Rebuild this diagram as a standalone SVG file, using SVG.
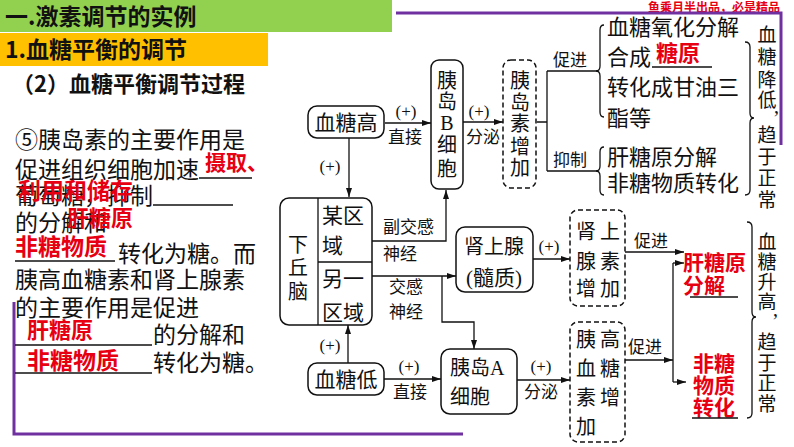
<svg xmlns="http://www.w3.org/2000/svg" width="794" height="447" viewBox="0 0 794 447">
<defs>
<style>
.t{font-family:'Liberation Serif','Noto Sans CJK SC',serif;fill:#111}
.n19{font-size:19px}
.n20{font-size:20px}
.n21{font-size:21px}
.n22{font-size:22px}
.lab{font-size:17px}
.lt{font-family:'Noto Sans CJK SC',sans-serif;font-size:23px;fill:#111}
.red{font-family:'Noto Sans CJK SC',sans-serif;font-weight:700;fill:#E60012}
.hd{font-family:'Noto Sans CJK SC',sans-serif;font-weight:700;fill:#111}
.box{fill:#fff;stroke:#111;stroke-width:1.5}
.dbox{fill:#fff;stroke:#111;stroke-width:1.5;stroke-dasharray:5 3}
.ln{fill:none;stroke:#111;stroke-width:1.3}
.ul{stroke:#111;stroke-width:1.5}
.pur{fill:none;stroke:#7030A0;stroke-width:3}
.mid{text-anchor:middle}
</style>
<marker id="ah" markerWidth="10" markerHeight="8" refX="9" refY="4" orient="auto" markerUnits="userSpaceOnUse"><path d="M0,1 L9,4 L0,7 Z" fill="#111"/></marker>
</defs>
<rect width="794" height="447" fill="#fff"/>

<g id="header">
<rect x="0" y="0" width="392" height="32" fill="#92D050"/>
<text class="hd" x="5" y="25" font-size="23">一.激素调节的实例</text>
<rect x="0" y="33" width="268" height="33" fill="#FFC000"/>
<text class="hd" x="5" y="58" font-size="23">1.血糖平衡的调节</text>
<text class="hd" x="12" y="92" font-size="22">（2）血糖平衡调节过程</text>
<text class="red" x="780" y="12" font-size="12" text-anchor="end">鱼乘月半出品，必是精品</text>
</g>

<g id="frame">
<path class="pur" d="M396,13 H781 V145"/>
<path class="pur" d="M14,302 V434 H463"/>
</g>

<g id="lefttext">
<text class="lt" x="15" y="148">⑤胰岛素的主要作用是</text>
<text class="lt" x="15" y="178">促进组织细胞加速</text>
<line class="ul" x1="199" y1="178" x2="252" y2="178"/>
<text class="red" x="205" y="170" font-size="21">摄取、</text>
<text class="lt" x="15" y="204">葡萄糖，抑制</text>
<line class="ul" x1="153" y1="205" x2="233" y2="205"/>
<text class="red" x="18" y="199" font-size="23">利用和储存</text>
<text class="lt" x="15" y="231">的分解和</text>
<text class="red" x="67" y="226" font-size="22">肝糖原</text>
<text class="red" x="15" y="255" font-size="23">非糖物质</text>
<line class="ul" x1="15" y1="261" x2="115" y2="261"/>
<text class="lt" x="118" y="262">转化为糖。而</text>
<text class="lt" x="15" y="288">胰高血糖素和肾上腺素</text>
<text class="lt" x="15" y="316">的主要作用是促进</text>
<text class="red" x="27" y="338" font-size="22">肝糖原</text>
<line class="ul" x1="15" y1="345" x2="152" y2="345"/>
<text class="lt" x="153" y="343">的分解和</text>
<text class="red" x="27" y="369" font-size="23">非糖物质</text>
<line class="ul" x1="15" y1="373" x2="152" y2="373"/>
<text class="lt" x="153" y="371">转化为糖。</text>
</g>

<g id="connectors">
<path class="ln" d="M385,123 H431" marker-end="url(#ah)"/>
<path class="ln" d="M463,122 H503" marker-end="url(#ah)"/>
<path class="ln" d="M537,122 H547 M547,71 V171 M547,71 H598 M547,171 H598"/>
<path class="ln" d="M349,138 V197" marker-end="url(#ah)"/>
<path class="ln" d="M372,241 H446 V190" marker-end="url(#ah)"/>
<path class="ln" d="M372,276 H456" marker-end="url(#ah)"/>
<path class="ln" d="M442,276 V322 H474 V349" marker-end="url(#ah)"/>
<path class="ln" d="M348,363 V325" marker-end="url(#ah)"/>
<path class="ln" d="M384,379 H441" marker-end="url(#ah)"/>
<path class="ln" d="M517,380 H570" marker-end="url(#ah)"/>
<path class="ln" d="M533,259 H570" marker-end="url(#ah)"/>
<path class="ln" d="M625,252 H684" marker-end="url(#ah)"/>
<path class="ln" d="M625,360 H673" marker-end="url(#ah)"/>
<path class="ln" d="M673,263 V382"/>
<path class="ln" d="M673,263 H684" marker-end="url(#ah)"/>
<path class="ln" d="M673,382 H686" marker-end="url(#ah)"/>
<g class="t lab">
<text class="mid" x="406" y="117">(+)</text>
<text class="mid" x="405" y="143">直接</text>
<text class="mid" x="479" y="117">(+)</text>
<text class="mid" x="483" y="143">分泌</text>
<text class="mid" x="570" y="66">促进</text>
<text class="mid" x="570" y="166">抑制</text>
<text class="mid" x="330" y="172">(+)</text>
<text x="383" y="233">副交感</text>
<text x="383" y="260">神经</text>
<text x="389" y="293">交感</text>
<text x="389" y="318">神经</text>
<text class="mid" x="549" y="252">(+)</text>
<text class="mid" x="651" y="247">促进</text>
<text class="mid" x="645" y="353">促进</text>
<text class="mid" x="330" y="351">(+)</text>
<text class="mid" x="409" y="372">(+)</text>
<text class="mid" x="410" y="398">直接</text>
<text class="mid" x="541" y="372">(+)</text>
<text class="mid" x="541" y="398">分泌</text>
</g>
</g>

<g id="n_xuetanggao">
<rect class="box" x="308" y="106" width="76" height="32" rx="9"/>
<text class="t n21 mid" x="346" y="130">血糖高</text>
</g>

<g id="n_yidaoB">
<rect class="box" x="431" y="60" width="32" height="129" rx="8"/>
<text class="t n20 mid"><tspan x="447" y="88">胰</tspan><tspan x="447" y="109">岛</tspan><tspan x="447" y="130">B</tspan><tspan x="447" y="152">细</tspan><tspan x="447" y="176">胞</tspan></text>
</g>

<g id="n_yidaosu">
<rect class="dbox" x="503" y="60" width="33" height="128" rx="8"/>
<text class="t n20 mid"><tspan x="520" y="88">胰</tspan><tspan x="520" y="110">岛</tspan><tspan x="520" y="131">素</tspan><tspan x="520" y="154">增</tspan><tspan x="520" y="175">加</tspan></text>
</g>

<g id="n_effects_down">
<path class="ln" d="M604,25 Q600,25 600,30 L600,66 Q600,71 596,71 Q600,71 600,76 L600,112 Q600,117 604,117"/>
<path class="ln" d="M604,147 Q600,147 600,152 L600,166 Q600,171 596,171 Q600,171 600,176 L600,190 Q600,195 604,195"/>
<g class="t n22">
<text x="607" y="35">血糖氧化分解</text>
<text x="607" y="65">合成</text>
<text x="607" y="95">转化成甘油三</text>
<text x="607" y="126">酯等</text>
<text x="607" y="165">肝糖原分解</text>
<text x="607" y="191">非糖物质转化</text>
</g>
<text class="red" x="656" y="61" font-size="22">糖原</text>
<line class="ul" x1="652" y1="67" x2="712" y2="67"/>
<path class="ln" d="M745,42 Q750,42 750,47 L750,113 Q750,118 754,118 Q750,118 750,123 L750,190 Q750,195 745,195"/>
<text class="t n19 mid"><tspan x="767" y="42">血</tspan><tspan x="767" y="64">糖</tspan><tspan x="767" y="87">降</tspan><tspan x="767" y="107">低</tspan><tspan x="767" y="142">趋</tspan><tspan x="767" y="164">于</tspan><tspan x="767" y="185">正</tspan><tspan x="767" y="207">常</tspan></text>
<text class="t" x="774" y="113" font-size="20">,</text>
</g>

<g id="n_xiaqiunao">
<rect class="box" x="280" y="198" width="92" height="127" rx="9"/>
<path class="ln" d="M318,198 V325 M318,262 H372"/>
<text class="t n20 mid"><tspan x="298" y="252">下</tspan><tspan x="298" y="275">丘</tspan><tspan x="298" y="299">脑</tspan></text>
<g class="t n21">
<text x="322" y="223">某区</text>
<text x="322" y="253">域</text>
<text x="322" y="286">另一</text>
<text x="322" y="320">区域</text>
</g>
</g>

<g id="n_shenshangxian">
<rect class="box" x="456" y="227" width="77" height="65" rx="9"/>
<text class="t n20 mid" x="494" y="254">肾上腺</text>
<text class="t n21 mid" x="494" y="285">(髓质)</text>
</g>

<g id="n_shenshangxiansu">
<rect class="dbox" x="570" y="210" width="55" height="96" rx="8"/>
<g class="t n20" letter-spacing="4">
<text x="576" y="239">肾上</text>
<text x="576" y="269">腺素</text>
<text x="576" y="296">增加</text>
</g>
</g>

<g id="n_xuetangdi">
<rect class="box" x="308" y="363" width="76" height="32" rx="9"/>
<text class="t n21 mid" x="346" y="387">血糖低</text>
</g>

<g id="n_yidaoA">
<rect class="box" x="441" y="349" width="76" height="65" rx="9"/>
<text class="t n20" x="450" y="375">胰岛A</text>
<text class="t n20" x="450" y="404">细胞</text>
</g>

<g id="n_yigaoxuetangsu">
<rect class="dbox" x="570" y="322" width="55" height="120" rx="8"/>
<g class="t n20" letter-spacing="4">
<text x="576" y="347">胰高</text>
<text x="576" y="376">血糖</text>
<text x="576" y="405">素增</text>
<text x="576" y="434">加</text>
</g>
</g>

<g id="n_effects_up">
<text class="red" x="683" y="270" font-size="21">肝糖原</text>
<text class="red" x="683" y="293" font-size="21">分解</text>
<line class="ul" x1="690" y1="297" x2="738" y2="297"/>
<text class="red" x="693" y="371" font-size="21">非糖</text>
<text class="red" x="693" y="393" font-size="21">物质</text>
<text class="red" x="693" y="415" font-size="21">转化</text>
<line class="ul" x1="692" y1="418" x2="738" y2="418"/>
<path class="ln" d="M747,222 Q752,222 752,227 L752,312 Q752,317 756,317 Q752,317 752,322 L752,413 Q752,418 747,418"/>
<text class="t n19 mid"><tspan x="767" y="249">血</tspan><tspan x="767" y="269">糖</tspan><tspan x="767" y="289">升</tspan><tspan x="767" y="309">高</tspan><tspan x="767" y="349">趋</tspan><tspan x="767" y="370">于</tspan><tspan x="767" y="390">正</tspan><tspan x="767" y="411">常</tspan></text>
<text class="t" x="773" y="316" font-size="20">,</text>
</g>
</svg>
